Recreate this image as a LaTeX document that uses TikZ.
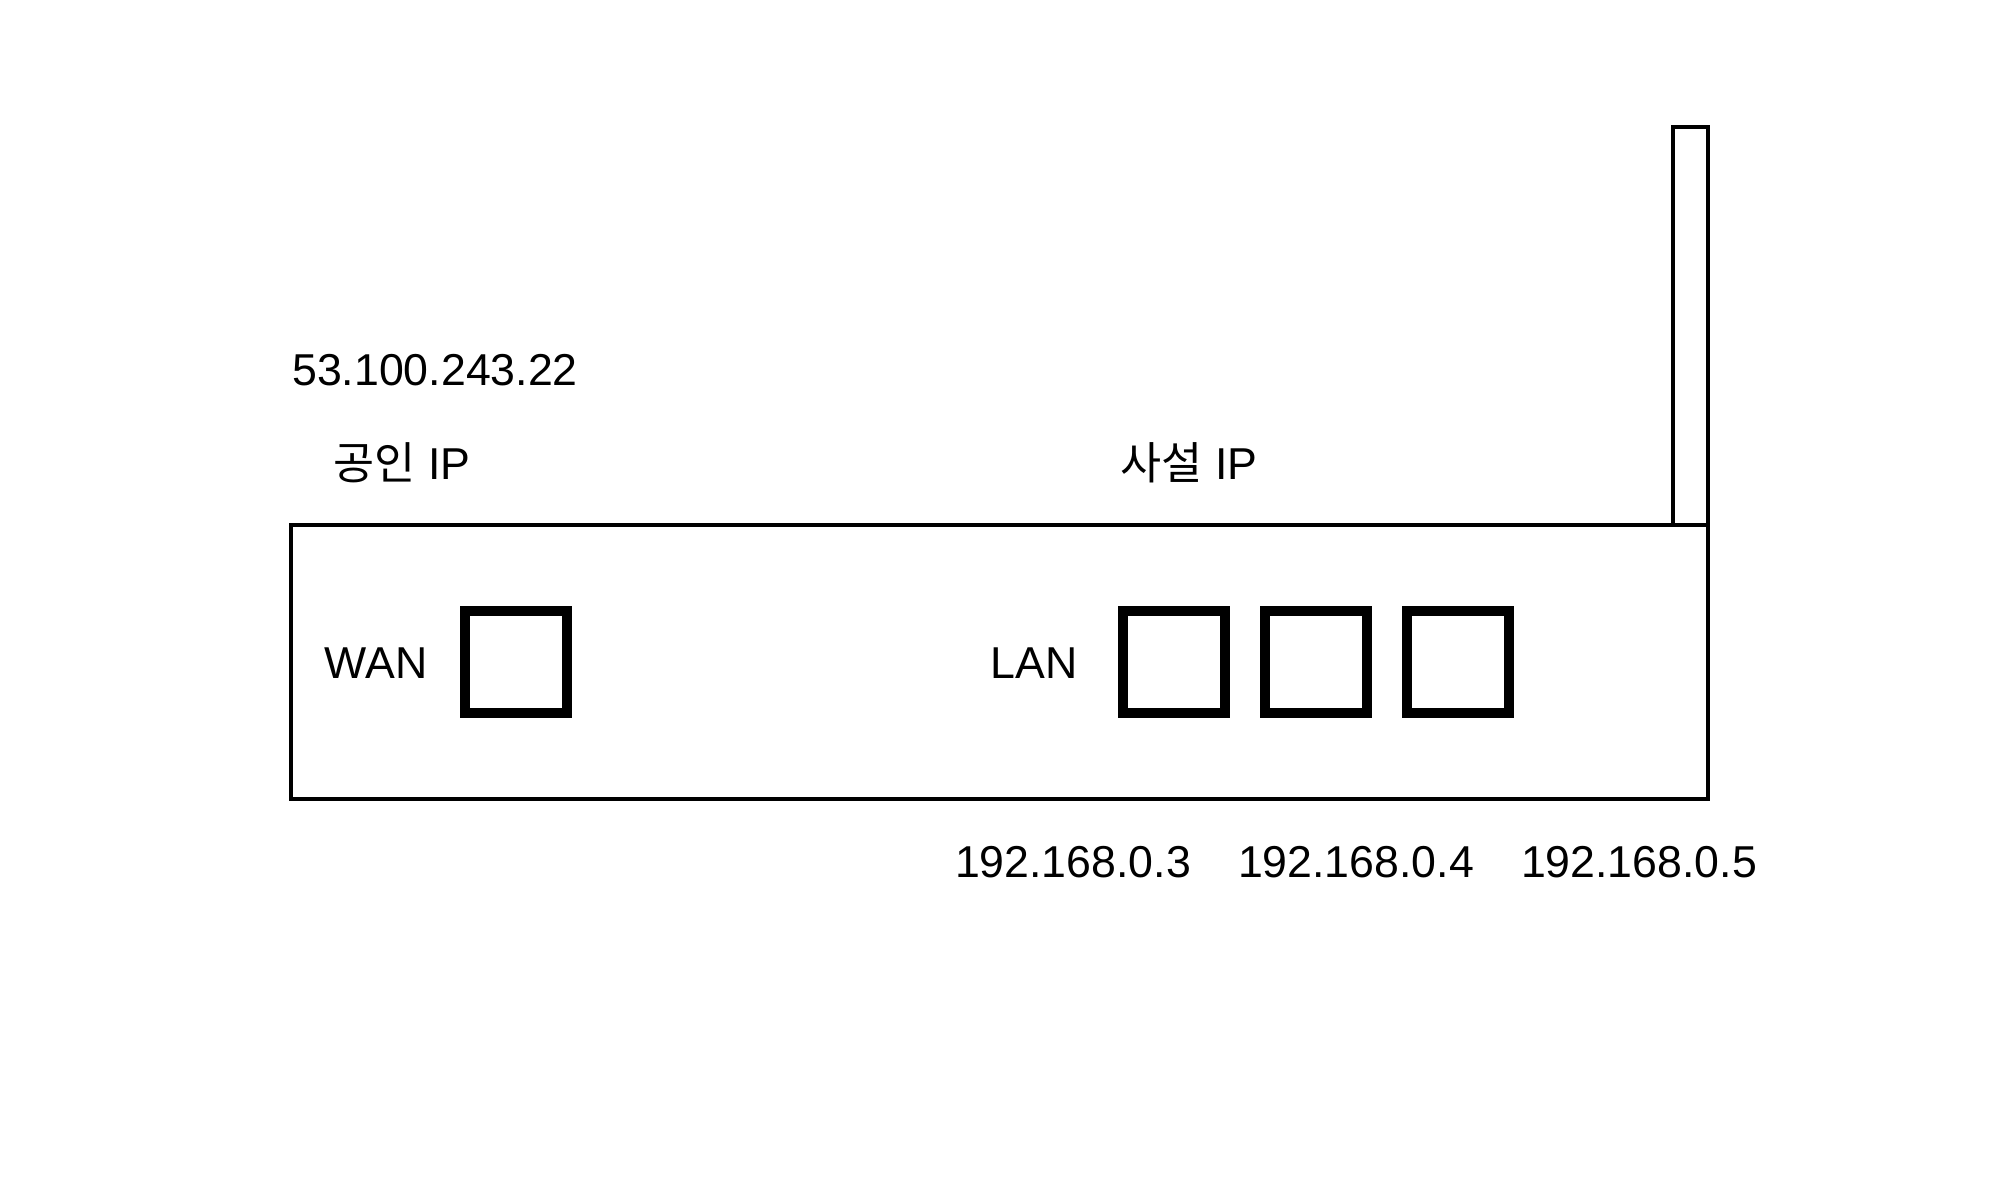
\documentclass[tikz,border=0pt]{standalone}
\usepackage{fontspec}
\setmainfont{Liberation Sans}
\newfontfamily\kofont{Noto Sans CJK KR}
\usetikzlibrary{positioning}

\tikzset{
  casing/.style={draw=black, line width=1.15pt},
  port/.style={draw=black, line width=2.85pt, minimum width=1.02cm, minimum height=1.02cm, inner sep=0pt},
  label/.style={anchor=base, inner sep=0pt, font=\fontsize{12.7}{15}\selectfont}
}

\begin{document}
\begin{tikzpicture}[x=0.01cm, y=-0.01cm]
\useasboundingbox (0,0) rectangle (2002,1178);

% Router body and antenna
\draw[casing] (291,525) rectangle (1708,799);
\draw[casing] (1673,525) -- (1673,127) -- (1708,127) -- (1708,525);

% WAN side
\node[port] (wan) at (516,662) {};
\node[label] (wanlbl) at (376,678) {WAN};
\node[label] (pubip) at (402,479) {{\kofont 공인} IP};
\node[label] (pubaddr) at (435,385) {53.100.243.22};

% LAN side
\node[label] (lanlbl) at (1034,678) {LAN};
\node[label] (privip) at (1189,479) {{\kofont 사설} IP};
\foreach \i/\x in {1/1174, 2/1316, 3/1458}
{
  \node[port] (lan\i) at (\x,662) {};
}
\node[label] (addr1) at (1073,877) {192.168.0.3};
\node[label] (addr2) at (1356,877) {192.168.0.4};
\node[label] (addr3) at (1639,877) {192.168.0.5};
\end{tikzpicture}
\end{document}
